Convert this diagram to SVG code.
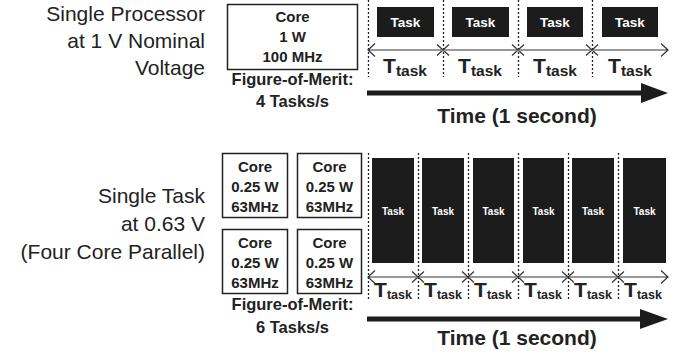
<svg xmlns="http://www.w3.org/2000/svg" width="681" height="356" viewBox="0 0 681 356">
<defs>
<style>
.lbl{font-family:"Liberation Sans",Arial,sans-serif;font-size:21px;fill:#222;text-anchor:end}
.b{font-family:"Liberation Sans",Arial,sans-serif;font-weight:bold;font-size:15px;fill:#222;text-anchor:middle}
.fom{font-family:"Liberation Sans",Arial,sans-serif;font-weight:bold;font-size:16.5px;fill:#222;text-anchor:middle}
.core{fill:#fff;stroke:#222;stroke-width:1.5}
.task{fill:#1c1c1c}
.tt{font-family:"Liberation Sans",Arial,sans-serif;font-weight:bold;fill:#fff;text-anchor:middle}
.dot{stroke:#222;stroke-width:1.3;stroke-dasharray:2,2;fill:none}
.thin{stroke:#333;stroke-width:1.2;fill:none}
.thick{stroke:#1c1c1c;stroke-width:5;fill:none}
.T{font-family:"Liberation Sans",Arial,sans-serif;font-weight:bold;font-size:21px;fill:#222;text-anchor:middle}
.time{font-family:"Liberation Sans",Arial,sans-serif;font-weight:bold;font-size:21px;fill:#222;text-anchor:middle}
</style>
</defs>

<!-- Left labels -->
<g id="label-top">
<text class="lbl" x="205" y="21">Single Processor</text>
<text class="lbl" x="205" y="48">at 1 V Nominal</text>
<text class="lbl" x="205" y="75">Voltage</text>
</g>
<g id="label-bottom">
<text class="lbl" x="205" y="203">Single Task</text>
<text class="lbl" x="205" y="231">at 0.63 V</text>
<text class="lbl" x="205" y="259">(Four Core Parallel)</text>
</g>

<!-- Top core -->
<g id="core-top">
<rect class="core" x="227.5" y="4.5" width="130" height="65"/>
<text class="b" x="292.5" y="22">Core</text>
<text class="b" x="292.5" y="42">1 W</text>
<text class="b" x="292.5" y="62">100 MHz</text>
</g>
<g id="fom-top">
<text class="fom" x="292.5" y="85">Figure-of-Merit:</text>
<text class="fom" x="292.5" y="107">4 Tasks/s</text>
</g>

<!-- Bottom cores -->
<g id="core-b1">
<rect class="core" x="222.5" y="153.5" width="65" height="64"/>
<text class="b" x="255" y="172">Core</text>
<text class="b" x="255" y="192">0.25 W</text>
<text class="b" x="255" y="212">63MHz</text>
</g>
<g id="core-b2">
<rect class="core" x="297.5" y="153.5" width="64" height="64"/>
<text class="b" x="329.5" y="172">Core</text>
<text class="b" x="329.5" y="192">0.25 W</text>
<text class="b" x="329.5" y="212">63MHz</text>
</g>
<g id="core-b3">
<rect class="core" x="222.5" y="229.5" width="65" height="64"/>
<text class="b" x="255" y="248">Core</text>
<text class="b" x="255" y="268">0.25 W</text>
<text class="b" x="255" y="288">63MHz</text>
</g>
<g id="core-b4">
<rect class="core" x="297.5" y="229.5" width="64" height="64"/>
<text class="b" x="329.5" y="248">Core</text>
<text class="b" x="329.5" y="268">0.25 W</text>
<text class="b" x="329.5" y="288">63MHz</text>
</g>
<g id="fom-bottom">
<text class="fom" x="292.5" y="310">Figure-of-Merit:</text>
<text class="fom" x="292.5" y="333">6 Tasks/s</text>
</g>

<!-- Top tasks -->
<g id="tasks-top">
<rect class="task" x="377" y="7" width="57" height="30"/>
<text class="tt" x="405.5" y="27" font-size="13.5">Task</text>
<rect class="task" x="452" y="7" width="57" height="30"/>
<text class="tt" x="480.5" y="27" font-size="13.5">Task</text>
<rect class="task" x="527" y="7" width="56" height="30"/>
<text class="tt" x="555" y="27" font-size="13.5">Task</text>
<rect class="task" x="602" y="7" width="56" height="30"/>
<text class="tt" x="630" y="27" font-size="13.5">Task</text>
</g>

<!-- Bottom tasks -->
<g id="tasks-bottom">
<rect class="task" x="372" y="158" width="42" height="105"/>
<text class="tt" x="393" y="215" font-size="10">Task</text>
<rect class="task" x="422" y="158" width="42" height="105"/>
<text class="tt" x="443" y="215" font-size="10">Task</text>
<rect class="task" x="473" y="158" width="41" height="105"/>
<text class="tt" x="493.5" y="215" font-size="10">Task</text>
<rect class="task" x="523" y="158" width="41" height="105"/>
<text class="tt" x="543.5" y="215" font-size="10">Task</text>
<rect class="task" x="572" y="158" width="42" height="105"/>
<text class="tt" x="593" y="215" font-size="10">Task</text>
<rect class="task" x="623" y="158" width="43" height="105"/>
<text class="tt" x="644.5" y="215" font-size="10">Task</text>
</g>

<g id="connectors">
<path class="dot" d="M368.5 0V77M443.5 0V77M518.5 0V77M592.5 0V77"/>
<path class="thin" d="M368 50H668M375 43.5L368 50L375 56.5M661 43.5L668 50L661 56.5"/>
<path class="thin" d="M437 44.5L449 55.5M437 55.5L449 44.5M512 44.5L524 55.5M512 55.5L524 44.5M586 44.5L598 55.5M586 55.5L598 44.5"/>
<path class="thick" d="M367 93H645"/>
<polygon fill="#1c1c1c" points="641,83 668,93 641,103"/>

<path class="dot" d="M368.5 153V300M418.5 153V300M468.5 153V300M518.5 153V300M568.5 153V300M618.5 153V300"/>
<path class="thin" d="M368 277H668M375 270.5L368 277L375 283.5M661 270.5L668 277L661 283.5"/>
<path class="thin" d="M412 271.5L424 282.5M412 282.5L424 271.5M462 271.5L474 282.5M462 282.5L474 271.5M512 271.5L524 282.5M512 282.5L524 271.5M562 271.5L574 282.5M562 282.5L574 271.5M612 271.5L624 282.5M612 282.5L624 271.5"/>
<path class="thick" d="M367 319H643"/>
<polygon fill="#1c1c1c" points="640,309 668,319 640,329"/>
</g>

<!-- T_task labels -->
<g id="ttask-top">
<text class="T" x="405" y="73">T<tspan font-size="15.5" dy="3">task</tspan></text>
<text class="T" x="480" y="73">T<tspan font-size="15.5" dy="3">task</tspan></text>
<text class="T" x="555" y="73">T<tspan font-size="15.5" dy="3">task</tspan></text>
<text class="T" x="630" y="73">T<tspan font-size="15.5" dy="3">task</tspan></text>
</g>
<g id="ttask-bottom">
<text class="T" x="393" y="297">T<tspan font-size="12.5" dy="2">task</tspan></text>
<text class="T" x="443" y="297">T<tspan font-size="12.5" dy="2">task</tspan></text>
<text class="T" x="493" y="297">T<tspan font-size="12.5" dy="2">task</tspan></text>
<text class="T" x="543" y="297">T<tspan font-size="12.5" dy="2">task</tspan></text>
<text class="T" x="593" y="297">T<tspan font-size="12.5" dy="2">task</tspan></text>
<text class="T" x="643" y="297">T<tspan font-size="12.5" dy="2">task</tspan></text>
</g>

<g id="time-labels">
<text class="time" x="517" y="123">Time (1 second)</text>
<text class="time" x="517" y="345">Time (1 second)</text>
</g>
</svg>
